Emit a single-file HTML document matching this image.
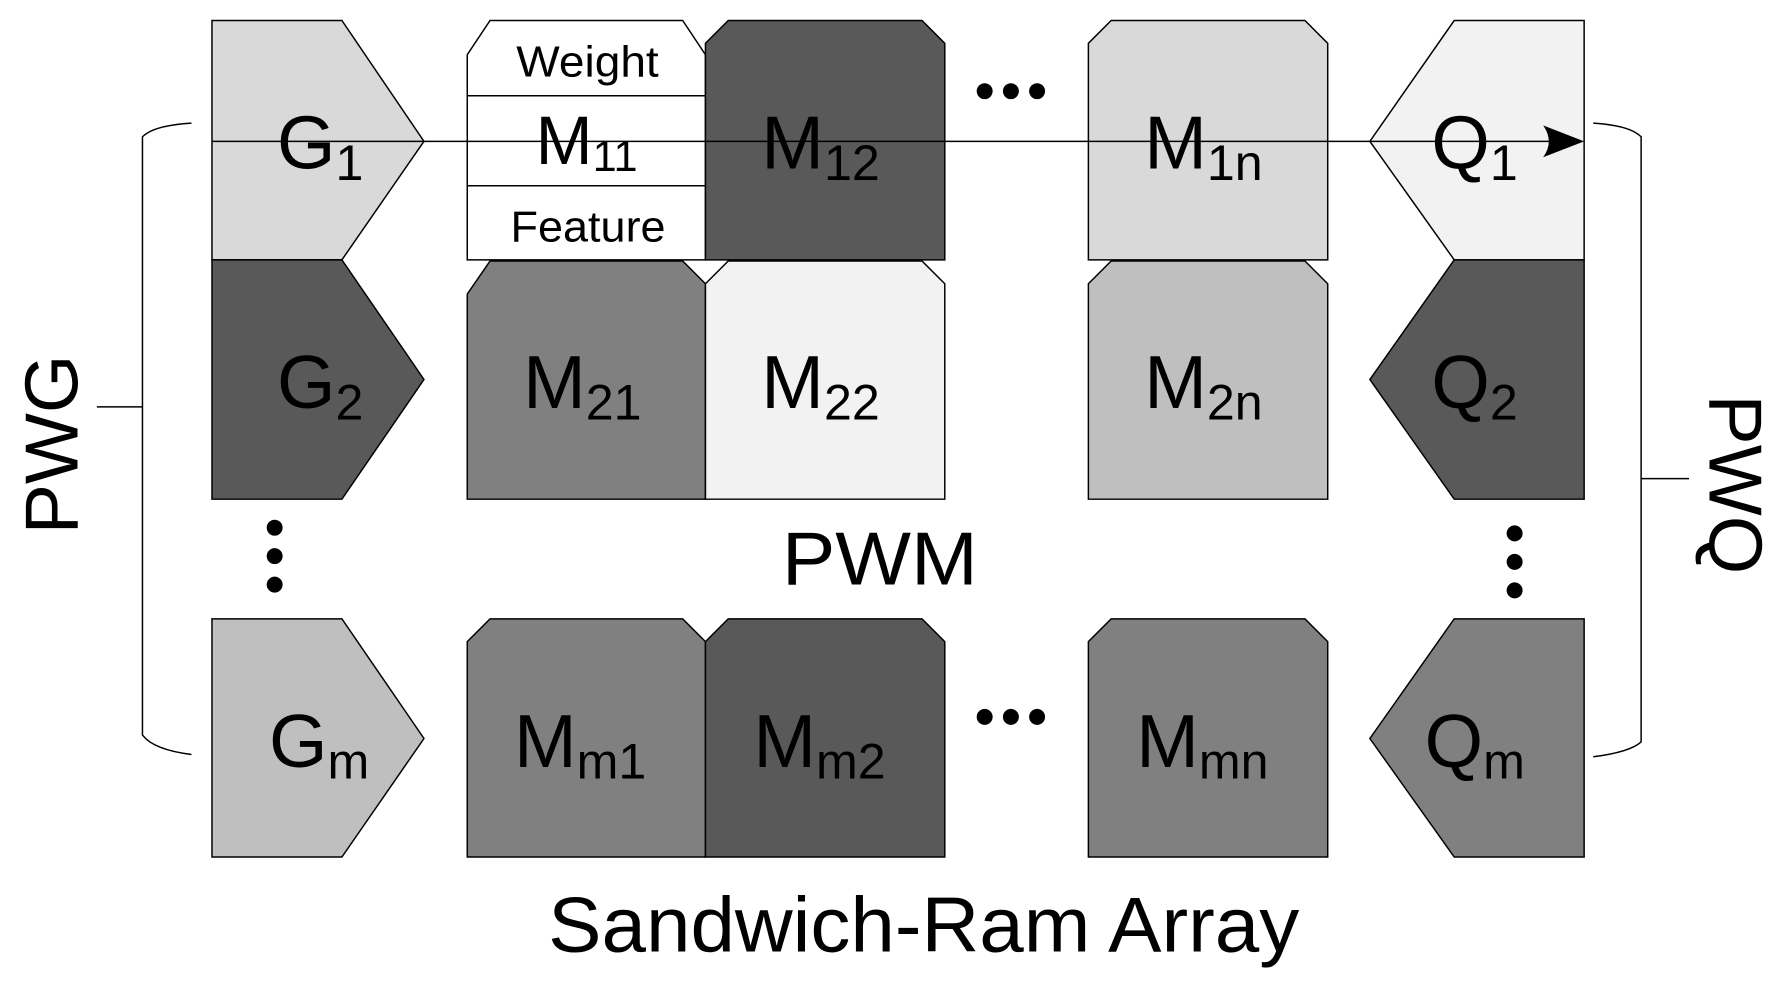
<!DOCTYPE html>
<html><head><style>html,body{margin:0;padding:0;background:#fff;}svg{display:block}</style></head>
<body>
<svg width="1787" height="984" viewBox="0 0 1568 863.4" xmlns="http://www.w3.org/2000/svg" font-family="'Liberation Sans', sans-serif">
<g stroke="#000" stroke-width="1.3">
<polygon points="186,18 300,18 372,124 300,228 186,228" fill="#d9d9d9"/>
<polygon points="186,228 300,228 372,333 300,438 186,438" fill="#595959"/>
<polygon points="186,543 300,543 372,648 300,752 186,752" fill="#bfbfbf"/>
<polygon points="1390,18 1276,18 1202,124 1276,228 1390,228" fill="#f2f2f2"/>
<polygon points="1390,228 1276,228 1202,333 1276,438 1390,438" fill="#595959"/>
<polygon points="1390,543 1276,543 1202,648 1276,752 1390,752" fill="#808080"/>
<polygon points="410,48 430,18 599,18 619,48 619,228 410,228" fill="#fff"/>
<line x1="410" y1="84" x2="619" y2="84"/><line x1="410" y1="163" x2="619" y2="163"/>
<polygon points="619,38 639,18 809,18 829,38 829,228 619,228" fill="#595959"/>
<polygon points="955,38 975,18 1145,18 1165,38 1165,228 955,228" fill="#d9d9d9"/>
<polygon points="410,258 430,229 599,229 619,249 619,438 410,438" fill="#808080"/>
<polygon points="619,249 639,229 809,229 829,249 829,438 619,438" fill="#f2f2f2"/>
<polygon points="955,249 975,229 1145,229 1165,249 1165,438 955,438" fill="#bfbfbf"/>
<polygon points="410,563 430,543 599,543 619,563 619,752 410,752" fill="#808080"/>
<polygon points="619,563 639,543 809,543 829,563 829,752 619,752" fill="#595959"/>
<polygon points="955,563 975,543 1145,543 1165,563 1165,752 955,752" fill="#808080"/>
</g>
<line x1="186" y1="124" x2="1388" y2="124" stroke="#000" stroke-width="1.3"/>
<path d="M1390,124 L1354,110 Q1364,124 1354,138 Z" fill="#000"/>
<g fill="none" stroke="#000" stroke-width="1.3">
<path d="M168,108 Q135,110 125,120 L125,645 Q135,658 168,662"/>
<line x1="85" y1="357" x2="125" y2="357"/>
<path d="M1398,108 Q1430,110 1440,120 L1440,651 Q1430,660 1398,664"/>
<line x1="1440" y1="420" x2="1482" y2="420"/>
</g>
<g font-size="66" fill="#000">
<text x="243" y="148">G<tspan font-size="44" dy="10">1</tspan></text>
<text x="243" y="358">G<tspan font-size="44" dy="10">2</tspan></text>
<text x="236" y="673">G<tspan font-size="44" dy="10">m</tspan></text>
<text x="1256" y="148">Q<tspan font-size="44" dy="10">1</tspan></text>
<text x="1256" y="358">Q<tspan font-size="44" dy="10">2</tspan></text>
<text x="1250" y="673">Q<tspan font-size="44" dy="10">m</tspan></text>
<text x="668" y="148">M<tspan font-size="44" dy="10">12</tspan></text>
<text x="1004" y="148">M<tspan font-size="44" dy="10">1n</tspan></text>
<text x="459" y="358">M<tspan font-size="44" dy="10">21</tspan></text>
<text x="668" y="358">M<tspan font-size="44" dy="10">22</tspan></text>
<text x="1004" y="358">M<tspan font-size="44" dy="10">2n</tspan></text>
<text x="451" y="673">M<tspan font-size="44" dy="10">m1</tspan></text>
<text x="661" y="673">M<tspan font-size="44" dy="10">m2</tspan></text>
<text x="997" y="673">M<tspan font-size="44" dy="10">mn</tspan></text>
</g>
<text x="453" y="67" font-size="38" textLength="125" lengthAdjust="spacingAndGlyphs">Weight</text>
<text x="470" y="144" font-size="60">M<tspan font-size="38" dy="6">11</tspan></text>
<text x="448" y="212" font-size="38" textLength="136" lengthAdjust="spacingAndGlyphs">Feature</text>
<text x="686" y="513" font-size="66" textLength="172" lengthAdjust="spacingAndGlyphs">PWM</text>
<text x="481" y="835" font-size="68" textLength="659" lengthAdjust="spacingAndGlyphs">Sandwich-Ram Array</text>
<text transform="translate(68,390) rotate(-90)" font-size="66" text-anchor="middle">PWG</text>
<text transform="translate(1500,425) rotate(90)" font-size="66" text-anchor="middle">PWQ</text>
<g fill="#000">
<circle cx="864" cy="80" r="7"/><circle cx="887" cy="80" r="7"/><circle cx="910" cy="80" r="7"/>
<circle cx="864" cy="629" r="7"/><circle cx="887" cy="629" r="7"/><circle cx="910" cy="629" r="7"/>
<circle cx="241" cy="463" r="7"/><circle cx="241" cy="488" r="7"/><circle cx="241" cy="513" r="7"/>
<circle cx="1329" cy="468" r="7"/><circle cx="1329" cy="493" r="7"/><circle cx="1329" cy="518" r="7"/>
</g>
</svg>
</body></html>
